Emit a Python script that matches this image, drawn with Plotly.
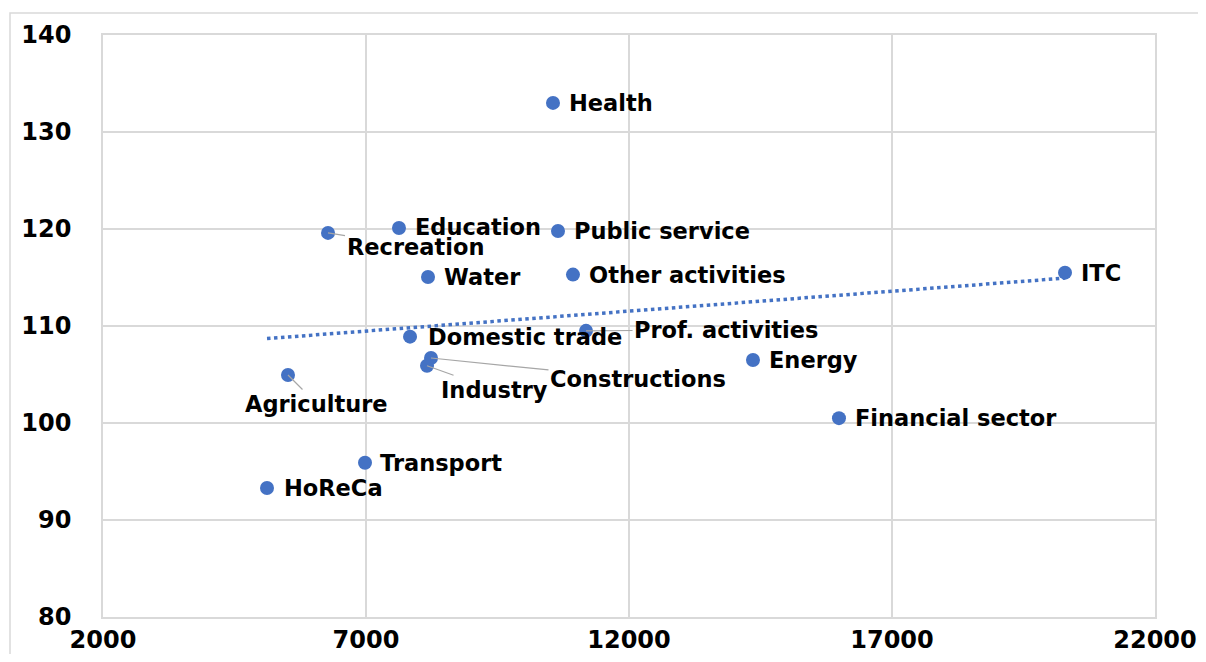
import numpy as np
import plotly.graph_objects as go

sectors = ["Health", "Education", "Public service", "Recreation", "Water",
           "Other activities", "ITC", "Prof. activities", "Domestic trade",
           "Constructions", "Industry", "Energy", "Agriculture",
           "Financial sector", "Transport", "HoReCa"]
x_vals = [10555, 7627, 10650, 6278, 8179, 10935, 20289, 11183, 7837,
          8236, 8160, 14357, 5517, 15992, 6981, 5118]
y_vals = [133.0, 120.1, 119.8, 119.6, 115.05, 115.3, 115.5, 109.5, 108.9,
          106.7, 105.9, 106.5, 104.95, 100.5, 95.9, 93.3]

x_ticks = [2000, 7000, 12000, 17000, 22000]
y_ticks = [80, 90, 100, 110, 120, 130, 140]

BLUE = "#4472C4"
GRID = "#D9D9D9"
FONT = "DejaVu Sans"
LABEL_SIZE = 22.5

fig = go.Figure()

# linear trendline (least squares) across the data range
k, b = np.polyfit(x_vals, y_vals, 1)
tx = np.array([min(x_vals), max(x_vals)])
fig.add_trace(go.Scatter(x=tx, y=k * tx + b, mode="lines",
                         line=dict(color=BLUE, width=3.5, dash="dot"),
                         hoverinfo="skip", showlegend=False))

fig.add_trace(go.Scatter(x=x_vals, y=y_vals, mode="markers",
                         marker=dict(color=BLUE, size=14, line=dict(width=0)),
                         text=sectors, showlegend=False))

# label offsets in pixels: (dx, dy, leader)
offsets = {
    "Health": (16, 0, False),
    "Education": (16, -1, False),
    "Public service": (16, 0, False),
    "Recreation": (87, 14, True),
    "Water": (16, 0, False),
    "Other activities": (16, 0, False),
    "ITC": (16, 0, False),
    "Prof. activities": (140, -1, True),
    "Domestic trade": (18, 0, False),
    "Constructions": (207, 21, True),
    "Industry": (67, 24, True),
    "Energy": (16, 0, False),
    "Agriculture": (29, 29, True),
    "Financial sector": (16, 0, False),
    "Transport": (15, 0, False),
    "HoReCa": (17, 0, False),
}

for name, xv, yv in zip(sectors, x_vals, y_vals):
    dx, dy, leader = offsets[name]
    if leader:
        fig.add_annotation(x=xv, y=yv, text=name, showarrow=True,
                           ax=dx, ay=dy, axref="pixel", ayref="pixel",
                           xanchor="center", yanchor="middle",
                           arrowhead=0, arrowwidth=1.2, arrowcolor="#A6A6A6",
                           font=dict(family=FONT, size=LABEL_SIZE, color="black", weight="bold"))
    else:
        fig.add_annotation(x=xv, y=yv, text=name, showarrow=False,
                           xanchor="left", yanchor="middle", xshift=dx - 2, yshift=-dy,
                           font=dict(family=FONT, size=LABEL_SIZE, color="black", weight="bold"))

# outer chart border
fig.add_shape(type="rect", xref="paper", yref="paper",
              x0=-0.0884, x1=1.2, y0=-0.3, y1=1.0378,
              line=dict(color=GRID, width=1.5), layer="below")

fig.update_xaxes(range=[2000, 22000], tickvals=x_ticks,
                 ticktext=[str(v) for v in x_ticks], automargin=False,
                 showgrid=True, gridcolor=GRID, gridwidth=1.5,
                 showline=True, linecolor=GRID, linewidth=1.5, mirror=True,
                 zeroline=False, ticks="", ticklabelstandoff=0,
                 tickfont=dict(family=FONT, size=24, color="black", weight="bold"))
fig.update_yaxes(range=[80, 140], tickvals=y_ticks,
                 ticktext=[str(v) for v in y_ticks], automargin=False,
                 showgrid=True, gridcolor=GRID, gridwidth=1.5,
                 showline=True, linecolor=GRID, linewidth=1.5, mirror=True,
                 zeroline=False, ticks="", ticklabelstandoff=25,
                 tickfont=dict(family=FONT, size=24, color="black", weight="bold"))

# page body has an 8px margin; the figure is sized and offset to compensate
fig.update_layout(width=1190, height=646,
                  margin=dict(l=95, r=43, t=27, b=37),
                  paper_bgcolor="white", plot_bgcolor="white",
                  showlegend=False)

fig.write_html("out.html")
